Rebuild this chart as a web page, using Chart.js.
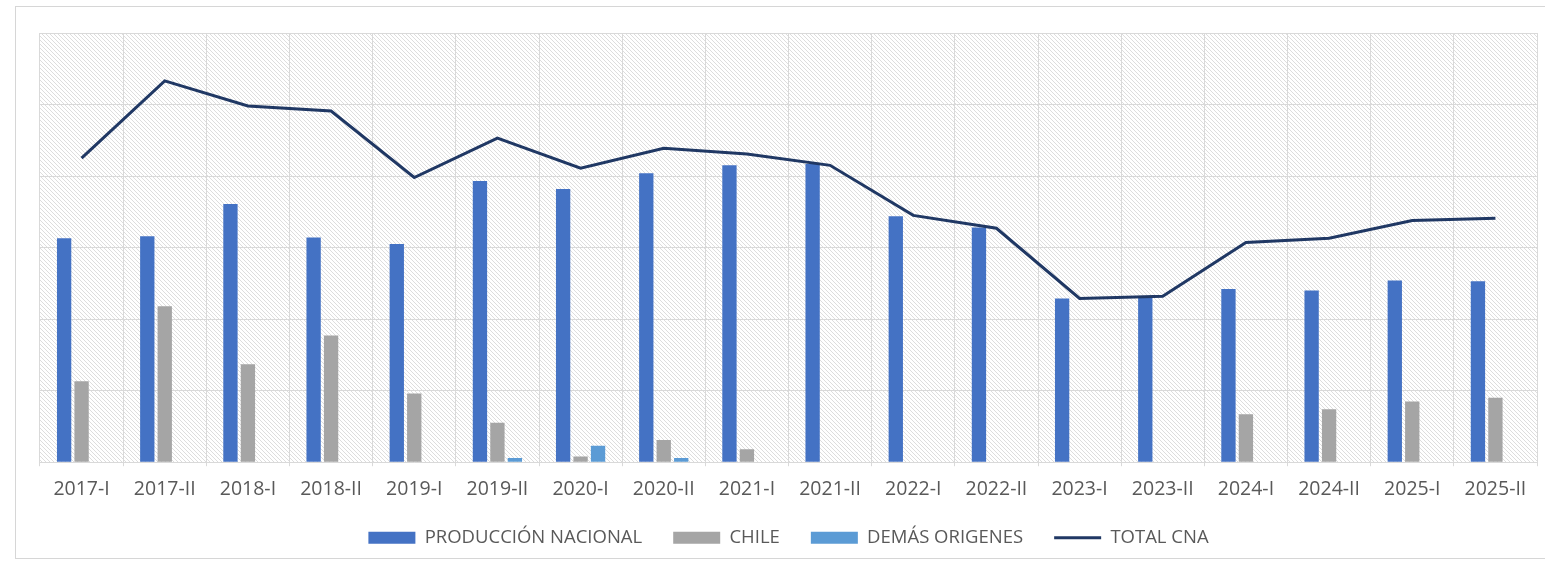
<!DOCTYPE html>
<html>
<head>
<meta charset="utf-8">
<script src="https://cdn.jsdelivr.net/npm/chart.js@4/dist/chart.umd.min.js"></script>
<style>
  html, body { margin: 0; padding: 0; background: #fff; overflow: hidden; }
  #frame { position: absolute; left: 15px; top: 6px; width: 1540px; height: 551px; border: 1px solid #d6d6d6; }
  #wrap { position: absolute; left: 0; top: 0; }
</style>
</head>
<body>
<div id="frame"></div>
<div id="wrap"><canvas id="chart" width="1545" height="565"></canvas></div>
<script>
// Periodos (semestres)
var periodos = ['2017-I', '2017-II', '2018-I', '2018-II', '2019-I', '2019-II', '2020-I', '2020-II', '2021-I',
                '2021-II', '2022-I', '2022-II', '2023-I', '2023-II', '2024-I', '2024-II', '2025-I', '2025-II'];

var produccionNacional = [31.3, 31.6, 36.1, 31.4, 30.5, 39.3, 38.2, 40.4, 41.5, 41.7, 34.4, 32.8, 22.9, 23.2, 24.2, 24.0, 25.4, 25.3];
var chile = [11.3, 21.8, 13.7, 17.7, 9.6, 5.5, 0.8, 3.1, 1.8, 0, 0, 0, 0, 0, 6.7, 7.4, 8.5, 9.0];
var demasOrigenes = [0, 0, 0, 0, 0, 0.6, 2.3, 0.6, 0, 0, 0, 0, 0, 0, 0, 0, 0, 0];
var totalCNA = [42.5, 53.3, 49.8, 49.1, 39.8, 45.3, 41.1, 43.9, 43.1, 41.5, 34.5, 32.7, 22.9, 23.2, 30.7, 31.3, 33.8, 34.1];

// fondo rayado del area del grafico
function rayado() {
  var c = document.createElement('canvas');
  c.width = 4; c.height = 4;
  var g = c.getContext('2d');
  g.fillStyle = '#ffffff';
  g.fillRect(0, 0, 4, 4);
  g.strokeStyle = '#dddddd';
  g.lineWidth = 1;
  g.beginPath();
  g.moveTo(-1, -1); g.lineTo(5, 5);
  g.moveTo(-1, 3); g.lineTo(1, 5);
  g.moveTo(3, -1); g.lineTo(5, 1);
  g.stroke();
  return g.createPattern(c, 'repeat');
}

var fondo = {
  id: 'fondo',
  afterLayout: function (chart) {
    // que las etiquetas del eje x no se recorten
    chart.scales.x.bottom = chart.height;
  },
  beforeDraw: function (chart) {
    var a = chart.chartArea;
    var ctx = chart.ctx;
    ctx.save();
    ctx.fillStyle = rayado();
    ctx.fillRect(a.left, a.top, a.right - a.left, a.bottom - a.top);
    ctx.restore();
  }
};

var ctx = document.getElementById('chart').getContext('2d');
var chart = new Chart(ctx, {
  type: 'bar',
  data: {
    labels: periodos,
    datasets: [{
      type: 'line',
      label: 'TOTAL CNA',
      data: totalCNA,
      borderColor: '#203864',
      backgroundColor: '#203864',
      borderWidth: 3,
      pointRadius: 0,
      pointStyle: 'line',
      tension: 0,
      order: 0
    }, {
      label: 'PRODUCCIÓN NACIONAL',
      data: produccionNacional,
      backgroundColor: '#4472C4',
      pointStyle: 'rect',
      order: 1
    }, {
      label: 'CHILE',
      data: chile,
      backgroundColor: '#A5A5A5',
      pointStyle: 'rect',
      order: 2
    }, {
      label: 'DEMÁS ORIGENES',
      data: demasOrigenes,
      backgroundColor: '#5B9BD5',
      pointStyle: 'rect',
      order: 3
    }]
  },
  plugins: [fondo],
  options: {
    responsive: false,
    animation: false,
    datasets: {
      bar: { barPercentage: 0.82, categoryPercentage: 0.63 }
    },
    layout: { padding: { left: 40, right: 8, top: 33, bottom: 8 } },
    scales: {
      x: {
        grid: { color: '#d9d9d9', lineWidth: 1, tickLength: 4, offset: true },
        border: { display: false },
        ticks: { color: '#595959', font: { family: 'Open Sans', size: 19.5 }, padding: 12, maxRotation: 0 },
        afterFit: function (scale) { scale.height = 35.3; }
      },
      y: {
        min: 0,
        max: 60,
        ticks: { display: false, stepSize: 10 },
        grid: { color: '#d9d9d9', lineWidth: 1, drawTicks: false },
        border: { display: false }
      }
    },
    plugins: {
      tooltip: { enabled: false },
      legend: {
        position: 'bottom',
        labels: {
          usePointStyle: true,
          pointStyleWidth: 47,
          boxHeight: 12,
          padding: 31,
          color: '#595959',
          font: { family: 'Open Sans', size: 18.5 },
          sort: function (a, b) {
            var orden = ['PRODUCCIÓN NACIONAL', 'CHILE', 'DEMÁS ORIGENES', 'TOTAL CNA'];
            return orden.indexOf(a.text) - orden.indexOf(b.text);
          }
        }
      }
    }
  }
});
</script>
</body>
</html>
